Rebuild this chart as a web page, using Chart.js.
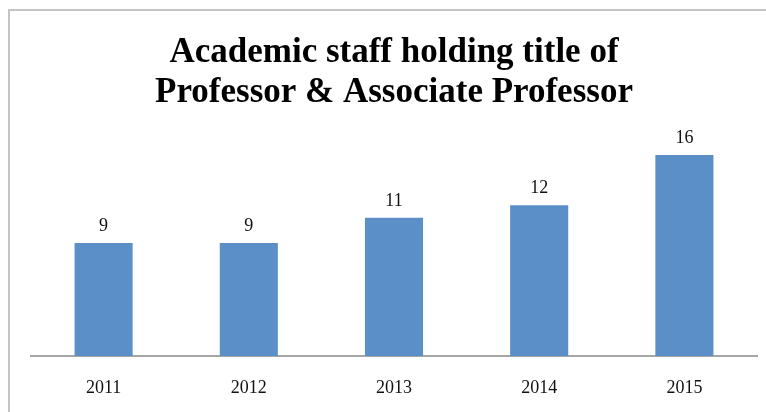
<!DOCTYPE html>
<html>
<head>
<meta charset="utf-8">
<script src="https://cdn.jsdelivr.net/npm/chart.js@4/dist/chart.umd.min.js"></script>
<style>
  html, body { margin: 0; padding: 0; background: #fff; }
  #wrap { position: relative; width: 766px; height: 412px; overflow: hidden; }
  #frame { position: absolute; left: 8px; top: 9px; width: 800px; height: 500px;
           border-left: 2px solid #c4c4c4; border-top: 2px solid #c4c4c4; box-sizing: border-box; }
  canvas { position: absolute; left: 0; top: 0; }
</style>
</head>
<body>
<div id="wrap">
  <div id="frame"></div>
  <canvas id="c" width="766" height="412"></canvas>
</div>
<script>
const titleLines = ["Academic staff holding title of", "Professor & Associate Professor"];
const categories = ["2011", "2012", "2013", "2014", "2015"];
const staffCounts = [9, 9, 11, 12, 16];

const valueLabels = {
  id: 'valueLabels',
  afterDatasetsDraw(chart) {
    const ctx = chart.ctx;
    const meta = chart.getDatasetMeta(0);
    ctx.save();
    ctx.font = '18px "Liberation Serif", serif';
    ctx.fillStyle = '#111';
    ctx.textAlign = 'center';
    ctx.textBaseline = 'middle';
    meta.data.forEach((bar, i) => {
      ctx.fillText(String(chart.data.datasets[0].data[i]), bar.x, bar.y - 17);
    });
    ctx.restore();
  }
};

new Chart(document.getElementById('c'), {
  type: 'bar',
  data: {
    labels: categories,
    datasets: [{
      data: staffCounts,
      backgroundColor: '#5b8fc7',
      borderWidth: 0,
      categoryPercentage: 1.0,
      barPercentage: 0.4
    }]
  },
  options: {
    responsive: false,
    animation: false,
    devicePixelRatio: 1,
    layout: { padding: { top: 10, left: 31, right: 9, bottom: 0 } },
    plugins: {
      legend: { display: false },
      tooltip: { enabled: false },
      title: {
        display: true,
        text: titleLines,
        color: '#000',
        font: { family: '"Liberation Serif", serif', size: 35, weight: 'bold', lineHeight: 1.17 },
        padding: { top: 22, bottom: 16 }
      }
    },
    scales: {
      x: {
        grid: { display: false, drawTicks: false },
        border: { display: true, color: '#a6a6a6', width: 2 },
        ticks: { color: '#111', font: { family: '"Liberation Serif", serif', size: 18 }, padding: 21 },
        afterFit(scale) { scale.height = 56; }
      },
      y: {
        display: false,
        min: 0,
        max: 18
      }
    }
  },
  plugins: [valueLabels]
});
</script>
</body>
</html>
